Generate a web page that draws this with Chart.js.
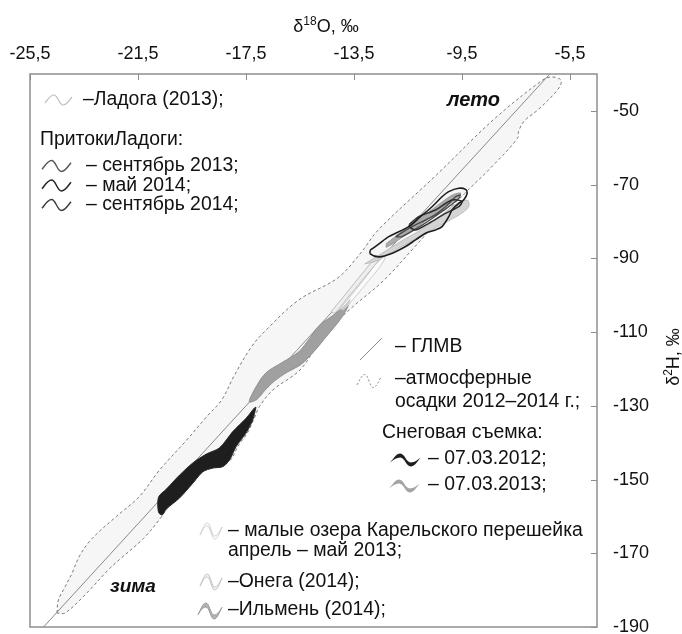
<!DOCTYPE html>
<html>
<head>
<meta charset="utf-8">
<script src="https://cdn.jsdelivr.net/npm/chart.js@4.4.1/dist/chart.umd.min.js"></script>
<style>
  html, body { margin: 0; padding: 0; background: #fff; }
  #wrap { width: 682px; height: 634px; }
</style>
</head>
<body>
<div id="wrap"><canvas id="c" width="682" height="634"></canvas></div>
<script>
// Tick values of both axes
const xTicks = [-25.5, -21.5, -17.5, -13.5, -9.5, -5.5];
const yTicks = [-50, -70, -90, -110, -130, -150, -170, -190];

// Global meteoric water line, δ2H = 8·δ18O + 10
const gmwl = [{x: -25, y: -190}, {x: -6.25, y: -40}];

// Envelope of atmospheric precipitation 2012–2014
const precipitation = [
  {x:-24.5,y:-186.2},{x:-24.45,y:-182.7},{x:-24.2,y:-179.1},{x:-23.95,y:-175.5},{x:-23.65,y:-170.5},
  {x:-23.2,y:-166},{x:-22.3,y:-160},{x:-21.45,y:-154.6},{x:-20.7,y:-147.4},{x:-19.7,y:-139.3},
  {x:-18.95,y:-132.9},{x:-18.4,y:-128.4},{x:-17.95,y:-122},{x:-17.3,y:-114},{x:-16.75,y:-109.4},
  {x:-15.55,y:-101.3},{x:-14.1,y:-95.3},{x:-13.3,y:-89},{x:-12.6,y:-82.3},{x:-10.45,y:-67.4},
  {x:-8.35,y:-52.5},{x:-6.55,y:-41.8},{x:-6.2,y:-40.8},{x:-5.85,y:-41.5},{x:-5.85,y:-43},
  {x:-6.1,y:-45.5},{x:-6.7,y:-49.8},{x:-7.2,y:-52.8},{x:-7.4,y:-55.5},{x:-7.45,y:-57.5},
  {x:-8.4,y:-65.2},{x:-9.4,y:-72.4},{x:-10.45,y:-80.4},{x:-11.35,y:-87.7},{x:-12.4,y:-96},
  {x:-13.6,y:-103.5},{x:-14.3,y:-108.5},{x:-14.9,y:-114},{x:-15.5,y:-120.3},{x:-16.5,y:-125.7},
  {x:-17.0,y:-130.2},{x:-17.2,y:-133.5},{x:-17.45,y:-137.4},{x:-17.8,y:-141},{x:-18.05,y:-144.5},
  {x:-18.4,y:-146.3},{x:-19.05,y:-147.6},{x:-19.45,y:-150.8},{x:-19.95,y:-154.6},{x:-20.45,y:-158},
  {x:-20.65,y:-160.3},{x:-21.3,y:-166},{x:-22.2,y:-171.8},{x:-22.6,y:-174.5},{x:-23.4,y:-180.8},
  {x:-24.2,y:-186.2},{x:-24.5,y:-186.2}
];

// Snow survey 07.03.2012
const snow2012 = [
  {x:-17.13,y:-130.4},{x:-17.25,y:-133.8},{x:-17.5,y:-137.4},{x:-17.87,y:-141.1},{x:-18.11,y:-144.7},
  {x:-18.36,y:-146.5},{x:-18.73,y:-146.9},{x:-19.1,y:-147.9},{x:-19.47,y:-151},{x:-19.96,y:-155},
  {x:-20.45,y:-158},{x:-20.6,y:-159.6},{x:-20.74,y:-158.9},{x:-20.74,y:-154.8},{x:-20.45,y:-152.6},
  {x:-19.96,y:-148.8},{x:-19.47,y:-145.5},{x:-18.97,y:-143.1},{x:-18.48,y:-141.4},{x:-17.99,y:-137},
  {x:-17.5,y:-133.4},{x:-17.19,y:-130.6},{x:-17.13,y:-130.4}
];

// Snow survey 07.03.2013
const snow2013 = [
  {x:-13.65,y:-101.2},{x:-13.9,y:-103.2},{x:-14.3,y:-105.6},{x:-14.8,y:-108.3},{x:-15.15,y:-111.8},
  {x:-15.55,y:-115.4},{x:-16.15,y:-118.2},{x:-16.75,y:-121},{x:-17.1,y:-124.5},{x:-17.38,y:-128.9},
  {x:-17.1,y:-128.3},{x:-16.8,y:-125.8},{x:-16.45,y:-123.3},{x:-16.0,y:-121},{x:-15.45,y:-118.7},
  {x:-14.95,y:-115},{x:-14.5,y:-111},{x:-14.05,y:-107},{x:-13.75,y:-103.5},{x:-13.65,y:-101.2}
];

// Small lakes of the Karelian Isthmus, April – May 2013
const smallLakes = [
  {x:-14.0,y:-103.5},{x:-13.6,y:-100},{x:-13.1,y:-95.5},{x:-12.75,y:-92},{x:-12.5,y:-89.5},
  {x:-12.35,y:-89.8},{x:-12.55,y:-92.4},{x:-12.95,y:-96},{x:-13.45,y:-100.4},{x:-13.9,y:-104},
  {x:-14.0,y:-103.5}
];

// Onega (2014)
const onega = [
  {x:-14.35,y:-104.5},{x:-13.9,y:-100.5},{x:-13.35,y:-95.5},{x:-12.9,y:-91.5},{x:-12.65,y:-89.3},
  {x:-12.5,y:-89.6},{x:-12.75,y:-92},{x:-13.2,y:-96},{x:-13.75,y:-100.8},{x:-14.2,y:-104.8},
  {x:-14.35,y:-104.5}
];

// Ladoga (2013)
const ladoga = [
  {x:-13.1,y:-91.5},{x:-12.5,y:-88.8},{x:-11.8,y:-85.6},{x:-11.0,y:-82.2},{x:-10.3,y:-78.5},
  {x:-9.7,y:-75.2},{x:-9.3,y:-74.2},{x:-9.25,y:-76},{x:-9.6,y:-78.2},{x:-10.2,y:-80.6},
  {x:-11.0,y:-83.8},{x:-11.9,y:-87.5},{x:-12.7,y:-90.8},{x:-13.1,y:-91.5}
];

// Ilmen (2014)
const ilmen = [
  {x:-12.3,y:-86.0},{x:-11.7,y:-82.6},{x:-11.0,y:-79.0},{x:-10.4,y:-75.6},{x:-9.85,y:-72.8},
  {x:-9.55,y:-72.3},{x:-9.7,y:-73.8},{x:-10.3,y:-77.0},{x:-11.0,y:-80.6},{x:-11.7,y:-84.2},
  {x:-12.3,y:-87.0},{x:-12.3,y:-86.0}
];

// Ladoga tributaries
const tribSep2013 = [
  {x:-12.9,y:-87.8},{x:-12.6,y:-86.2},{x:-12.21,y:-84.1},{x:-11.47,y:-81.4},{x:-11.1,y:-79.1},
  {x:-10.61,y:-76},{x:-10.24,y:-73.3},{x:-9.99,y:-71.9},{x:-9.62,y:-71},{x:-9.37,y:-71.3},
  {x:-9.31,y:-72.4},{x:-9.44,y:-74.2},{x:-9.62,y:-75.1},{x:-9.87,y:-76.9},{x:-9.99,y:-78.7},
  {x:-10.24,y:-81.4},{x:-10.48,y:-82.3},{x:-10.85,y:-83.2},{x:-11.22,y:-85},{x:-11.59,y:-86.8},
  {x:-12.08,y:-88.6},{x:-12.58,y:-89.6},{x:-12.9,y:-88.8},{x:-12.9,y:-87.8}
];
const tribMay2014 = [
  {x:-11.45,y:-80.8},{x:-11.1,y:-78.7},{x:-10.48,y:-76.9},{x:-9.87,y:-74.2},{x:-9.5,y:-74.6},
  {x:-9.62,y:-76},{x:-10.11,y:-77.8},{x:-10.73,y:-80.5},{x:-11.22,y:-82.3},{x:-11.45,y:-81.4},
  {x:-11.45,y:-80.8}
];
const tribSep2014 = [
  {x:-11.96,y:-84.1},{x:-11.35,y:-81.4},{x:-10.61,y:-78.7},{x:-10.11,y:-76},{x:-9.74,y:-73.3},
  {x:-9.56,y:-72.8},{x:-9.68,y:-74.2},{x:-10.24,y:-77.3},{x:-10.98,y:-81},{x:-11.72,y:-84.1},
  {x:-11.96,y:-84.1}
];

const FONT = '"Liberation Sans", Arial, sans-serif';

function shape(data, fill, stroke, width, order, extra) {
  return Object.assign({
    data, backgroundColor: fill, borderColor: stroke, borderWidth: width,
    fill: fill ? 'shape' : false, tension: 0.3, pointRadius: 0, order
  }, extra || {});
}

// wave glyph used in the key
function wavePts(x, y, w, h, d) {
  return [
    [x, y + 0.3*h],
    [x + 0.12*w, y - 0.1*h + d*0.3], [x + 0.2*w, y - 0.5*h + d], [x + 0.33*w, y - 0.5*h + d],
    [x + 0.48*w, y - 0.5*h + d], [x + 0.52*w, y + 0.5*h + d], [x + 0.67*w, y + 0.5*h + d],
    [x + 0.8*w, y + 0.5*h + d], [x + 0.88*w, y + 0.1*h + d*0.3], [x + w, y - 0.3*h]
  ];
}
function strokeWave(ctx, x, y, w, h, color, lw, dash) {
  const p = wavePts(x, y, w, h, 0);
  ctx.save();
  ctx.beginPath();
  ctx.moveTo(p[0][0], p[0][1]);
  for (let i = 1; i < p.length; i += 3) ctx.bezierCurveTo(p[i][0], p[i][1], p[i+1][0], p[i+1][1], p[i+2][0], p[i+2][1]);
  ctx.strokeStyle = color; ctx.lineWidth = lw; ctx.setLineDash(dash || []);
  ctx.stroke();
  ctx.restore();
}
function ribbonWave(ctx, x, y, w, h, t, fill, stroke) {
  const a = wavePts(x, y, w, h, -t/2);
  const b = wavePts(x, y, w, h, t/2).reverse();
  ctx.save();
  ctx.beginPath();
  ctx.moveTo(a[0][0], a[0][1]);
  for (let i = 1; i < a.length; i += 3) ctx.bezierCurveTo(a[i][0], a[i][1], a[i+1][0], a[i+1][1], a[i+2][0], a[i+2][1]);
  ctx.lineTo(b[0][0], b[0][1]);
  for (let i = 1; i < b.length; i += 3) ctx.bezierCurveTo(b[i][0], b[i][1], b[i+1][0], b[i+1][1], b[i+2][0], b[i+2][1]);
  ctx.closePath();
  if (fill) { ctx.fillStyle = fill; ctx.fill(); }
  if (stroke) { ctx.strokeStyle = stroke; ctx.lineWidth = 1; ctx.stroke(); }
  ctx.restore();
}

const decorations = {
  id: 'decorations',
  afterDraw(chart) {
    const {ctx, chartArea: a, scales: {x, y}} = chart;
    ctx.save();
    // frame
    ctx.strokeStyle = '#8e8e8e';
    ctx.lineWidth = 1.5;
    ctx.strokeRect(a.left, a.top, a.right - a.left, a.bottom - a.top);
    // inward tick marks
    ctx.lineWidth = 1;
    ctx.beginPath();
    xTicks.forEach(v => { const p = Math.round(x.getPixelForValue(v)) + 0.5; ctx.moveTo(p, a.top); ctx.lineTo(p, a.top + 6); });
    yTicks.forEach(v => { const p = Math.round(y.getPixelForValue(v)) + 0.5; ctx.moveTo(a.right - 6, p); ctx.lineTo(a.right, p); });
    ctx.stroke();

    // axis titles
    ctx.fillStyle = '#111';
    ctx.textBaseline = 'alphabetic';
    const titleX = (big, sup, rest, cx, cy) => {
      ctx.font = '18px ' + FONT; const w1 = ctx.measureText(big).width, w3 = ctx.measureText(rest).width;
      ctx.font = '12px ' + FONT; const w2 = ctx.measureText(sup).width;
      let sx = cx - (w1 + w2 + w3) / 2;
      ctx.font = '18px ' + FONT; ctx.textAlign = 'left'; ctx.fillText(big, sx, cy);
      ctx.font = '12px ' + FONT; ctx.fillText(sup, sx + w1, cy - 7);
      ctx.font = '18px ' + FONT; ctx.fillText(rest, sx + w1 + w2, cy);
    };
    titleX('δ', '18', 'O, ‰', 326, 32);
    ctx.save();
    ctx.translate(679, 357);
    ctx.rotate(-Math.PI / 2);
    titleX('δ', '2', 'H, ‰', 0, 0);
    ctx.restore();

    // key texts
    const txt = (s, tx, ty, f) => { ctx.font = f || ('19.4px ' + FONT); ctx.textAlign = 'left'; ctx.textBaseline = 'middle'; ctx.fillStyle = '#111'; ctx.fillText(s, tx, ty); };
    txt('–Ладога (2013);', 83, 100);
    txt('ПритокиЛадоги:', 40, 140);
    txt('– сентябрь 2013;', 86, 166);
    txt('– май 2014;', 86, 185.5);
    txt('– сентябрь 2014;', 86, 205);
    txt('лето', 447, 100, 'bold italic 20px ' + FONT);
    txt('– ГЛМВ', 395, 347);
    txt('–атмосферные', 395, 379);
    txt('осадки 2012–2014 г.;', 395, 401.5);
    txt('Снеговая съемка:', 382, 432.5);
    txt('– 07.03.2012;', 428, 458.5);
    txt('– 07.03.2013;', 428, 485);
    txt('– малые озера Карельского перешейка', 228, 530.5);
    txt('апрель – май 2013;', 228, 551);
    txt('–Онега (2014);', 228, 581.5);
    txt('–Ильмень (2014);', 228, 610);
    txt('зима', 110, 587, 'bold italic 19px ' + FONT);

    // key glyphs
    strokeWave(ctx, 45, 100, 27, 10, '#bdbdbd', 1.2);
    strokeWave(ctx, 42, 166, 29, 11, '#555', 1.4);
    strokeWave(ctx, 42, 185.5, 29, 11, '#222', 1.5);
    strokeWave(ctx, 42, 205, 29, 11, '#3a3a3a', 1.4);
    ctx.save();
    ctx.strokeStyle = '#8a8a8a'; ctx.lineWidth = 1;
    ctx.beginPath(); ctx.moveTo(360, 360); ctx.lineTo(382, 338); ctx.stroke();
    ctx.restore();
    strokeWave(ctx, 357, 381, 24, 13, '#8a8a8a', 1, [2, 2]);
    ribbonWave(ctx, 390, 460, 31, 9, 4, '#1e1e1e', null);
    ribbonWave(ctx, 389, 486, 31, 9, 4, '#a4a4a4', null);
    ribbonWave(ctx, 200, 531, 22, 13, 3, '#ffffff', '#cfcfcf');
    ribbonWave(ctx, 200, 582, 22, 13, 3, '#f2f2f2', '#c2c2c2');
    ribbonWave(ctx, 198, 611, 24, 12, 4, '#b3b3b3', '#9c9c9c');
    ctx.restore();
  }
};

new Chart(document.getElementById('c'), {
  type: 'line',
  data: {
    datasets: [
      shape(precipitation, '#f6f6f6', '#7a7a7a', 1, 20, {borderDash: [3, 2.5], tension: 0.35}),
      shape(gmwl, null, '#8a8a8a', 1, 19, {tension: 0}),
      shape(snow2012, '#1e1e1e', '#2a2a2a', 1, 18),
      shape(snow2013, '#a0a0a0', '#8f8f8f', 1, 17),
      shape(smallLakes, 'rgba(255,255,255,0.5)', '#cfcfcf', 1, 16),
      shape(onega, '#eeeeee', '#bdbdbd', 1, 15),
      shape(ladoga, '#d4d4d4', '#bdbdbd', 1, 14),
      shape(ilmen, '#aaaaaa', '#9a9a9a', 1, 13),
      shape(tribSep2014, null, '#4a4a4a', 1.4, 12),
      shape(tribMay2014, null, '#2e2e2e', 1.5, 11),
      shape(tribSep2013, null, '#1c1c1c', 1.6, 10)
    ]
  },
  options: {
    responsive: false,
    animation: false,
    events: [],
    layout: { padding: { left: 30, top: 0, right: 0, bottom: 7 } },
    plugins: { legend: { display: false }, tooltip: { enabled: false } },
    scales: {
      x: {
        type: 'linear', position: 'top', min: -25.5, max: -4.5,
        afterBuildTicks: s => { s.ticks = xTicks.map(v => ({value: v})); },
        afterFit: s => { s.height = 74; s.paddingLeft = 0; s.paddingRight = 0; s.paddingTop = 0; s.paddingBottom = 0; },
        grid: { display: false, drawTicks: false },
        border: { display: false },
        ticks: {
          padding: 9, color: '#111', maxRotation: 0, autoSkip: false,
          font: { family: FONT, size: 18 },
          callback: v => String(v).replace('.', ',')
        }
      },
      y: {
        type: 'linear', position: 'right', min: -190, max: -40,
        afterBuildTicks: s => { s.ticks = yTicks.map(v => ({value: v})); },
        afterFit: s => { s.width = 85; s.paddingLeft = 0; s.paddingRight = 0; s.paddingTop = 0; s.paddingBottom = 0; },
        grid: { display: false, drawTicks: false },
        border: { display: false },
        ticks: {
          padding: 16, color: '#111', autoSkip: false,
          font: { family: FONT, size: 18 },
          callback: v => String(v)
        }
      }
    }
  },
  plugins: [decorations]
});
</script>
</body>
</html>
